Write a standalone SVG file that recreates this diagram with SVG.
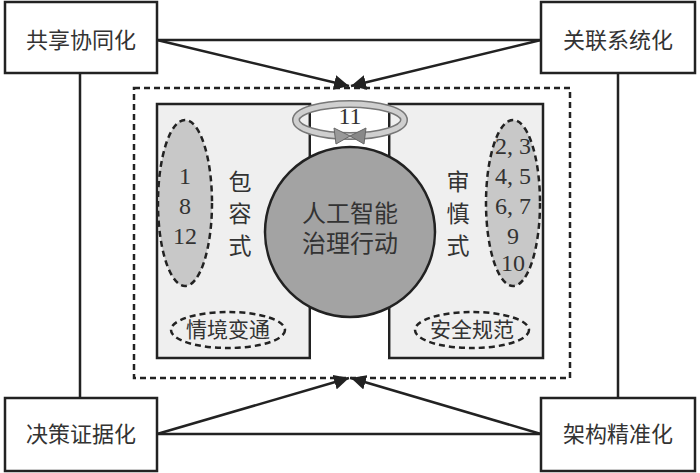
<svg xmlns="http://www.w3.org/2000/svg" width="700" height="473" viewBox="0 0 700 473">
<style>
.box{fill:#fff;stroke:#222;stroke-width:2.5}
.cjk{font-family:"Liberation Serif","Noto Sans CJK SC",serif;fill:#333;text-anchor:middle}
.num{font-family:"Liberation Serif",serif;font-size:24px;fill:#333;text-anchor:middle}
.ln{stroke:#222;stroke-width:2.5;fill:none}
.dash{stroke:#222;stroke-width:2.5;stroke-dasharray:6,4}
</style>
<defs><marker id="ah" viewBox="0 0 10 10" refX="10" refY="5" markerWidth="6" markerHeight="6" orient="auto"><path d="M0,0L10,5L0,10z" fill="#222"/></marker></defs>
<rect width="700" height="473" fill="#fff"/>
<g id="connectors">
<line class="ln" x1="157" y1="40" x2="541" y2="40"/>
<line class="ln" x1="157" y1="434" x2="541" y2="434"/>
<line class="ln" x1="80" y1="73" x2="80" y2="398"/>
<line class="ln" x1="618" y1="73" x2="618" y2="398"/>
<line class="ln" x1="157" y1="40" x2="349" y2="86" marker-end="url(#ah)"/>
<line class="ln" x1="541" y1="40" x2="351" y2="86" marker-end="url(#ah)"/>
<line class="ln" x1="157" y1="434" x2="349" y2="378" marker-end="url(#ah)"/>
<line class="ln" x1="541" y1="434" x2="351" y2="378" marker-end="url(#ah)"/>
</g>
<g id="frame"><rect class="dash" x="134" y="88" width="436" height="290" fill="none"/></g>
<g id="left-panel"><rect x="157" y="104" width="153" height="254" fill="#efefef" stroke="#222" stroke-width="2.5"/>
<ellipse class="dash" cx="185" cy="203" rx="27" ry="83" fill="#c8c8c8"/>
<text class="num" x="185" y="184">1</text><text class="num" x="185" y="214">8</text><text class="num" x="185" y="244">12</text>
<text class="cjk" font-size="23" x="240" y="190">包</text><text class="cjk" font-size="23" x="240" y="222">容</text><text class="cjk" font-size="23" x="240" y="254">式</text>
<ellipse class="dash" cx="228" cy="330" rx="57" ry="18" fill="none"/>
<text class="cjk" font-size="21" x="228" y="337">情境变通</text></g>
<g id="right-panel"><rect x="389" y="104" width="154" height="254" fill="#efefef" stroke="#222" stroke-width="2.5"/>
<ellipse class="dash" cx="513" cy="203" rx="27" ry="83" fill="#c8c8c8"/>
<text class="num" x="513" y="154">2, 3</text><text class="num" x="513" y="184">4, 5</text><text class="num" x="513" y="214">6, 7</text><text class="num" x="513" y="244">9</text><text class="num" x="513" y="271">10</text>
<text class="cjk" font-size="23" x="458" y="190">审</text><text class="cjk" font-size="23" x="458" y="222">慎</text><text class="cjk" font-size="23" x="458" y="254">式</text>
<ellipse class="dash" cx="472" cy="330" rx="57" ry="18" fill="none"/>
<text class="cjk" font-size="21" x="472" y="337">安全规范</text></g>
<g id="center">
<line class="ln" x1="310" y1="104" x2="310" y2="358"/>
<line class="ln" x1="389" y1="104" x2="389" y2="358"/>
<rect x="311" y="106" width="77" height="253" fill="#fff"/>
<circle cx="350" cy="232" r="85" fill="#a3a3a3" stroke="#222" stroke-width="2.5"/>
<text class="cjk" font-size="24" x="350" y="222">人工智能</text>
<text class="cjk" font-size="24" x="350" y="252">治理行动</text>
</g>
<g id="cycle">
<ellipse cx="350" cy="120" rx="54" ry="16" fill="none" stroke="#777" stroke-width="8"/>
<ellipse cx="350" cy="120" rx="54" ry="16" fill="none" stroke="#cfcfcf" stroke-width="5"/>
<path d="M334,128 L350,136 L336,144z" fill="#999" stroke="#666"/>
<path d="M366,128 L350,136 L364,144z" fill="#888" stroke="#666"/>
<text class="num" x="350" y="124">11</text>
</g>
<g id="n1"><rect class="box" x="5" y="2" width="152" height="71"/><text class="cjk" font-size="22" x="81" y="48">共享协同化</text></g>
<g id="n2"><rect class="box" x="541" y="2" width="154" height="71"/><text class="cjk" font-size="22" x="618" y="48">关联系统化</text></g>
<g id="n3"><rect class="box" x="5" y="398" width="152" height="73"/><text class="cjk" font-size="22" x="81" y="442">决策证据化</text></g>
<g id="n4"><rect class="box" x="541" y="398" width="154" height="73"/><text class="cjk" font-size="22" x="618" y="442">架构精准化</text></g>
</svg>
